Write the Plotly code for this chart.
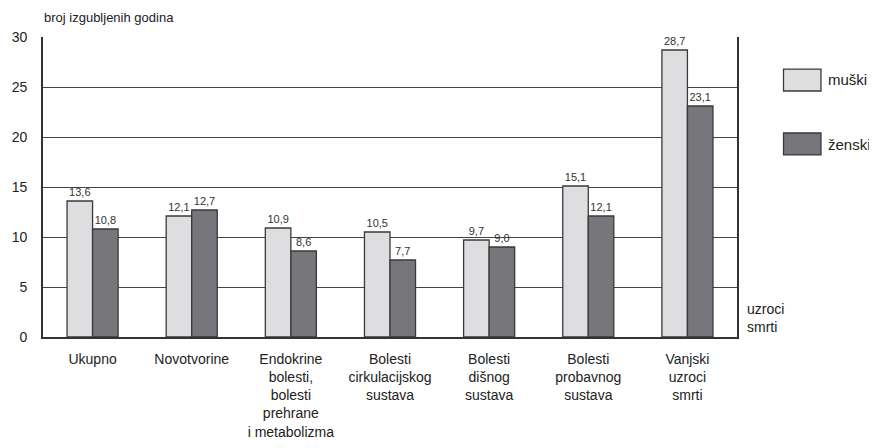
import plotly.graph_objects as go

categories = ["Ukupno", "Novotvorine", "Endokrine<br>bolesti,<br>bolesti<br>prehrane<br>i metabolizma",
              "Bolesti<br>cirkulacijskog<br>sustava", "Bolesti<br>dišnog<br>sustava",
              "Bolesti<br>probavnog<br>sustava", "Vanjski<br>uzroci<br>smrti"]
muski = [13.6, 12.1, 10.9, 10.5, 9.7, 15.1, 28.7]
zenski = [10.8, 12.7, 8.6, 7.7, 9.0, 12.1, 23.1]
y_ticks = [0, 5, 10, 15, 20, 25, 30]

FONT = "Liberation Sans Narrow, Arial Narrow, Liberation Sans, Arial, sans-serif"
LIGHT = "#dedee0"
DARK = "#77777b"
EDGE = "#3a3a3a"

def fmt(v):
    return f"{v:.1f}".replace(".", ",")

fig = go.Figure()
fig.add_bar(x=categories, y=muski, name="muški", marker=dict(color=LIGHT, line=dict(color=EDGE, width=1.3)),
            text=[fmt(v) for v in muski], textposition="outside", cliponaxis=False,
            textfont=dict(size=11, color="#333", family=FONT))
fig.add_bar(x=categories, y=zenski, name="ženski", marker=dict(color=DARK, line=dict(color=EDGE, width=1.3)),
            text=[fmt(v) for v in zenski], textposition="outside", cliponaxis=False,
            textfont=dict(size=11, color="#333", family=FONT))

fig.update_layout(
    width=869, height=440,
    margin=dict(l=35, r=140, t=29, b=111, autoexpand=False),
    plot_bgcolor="white", paper_bgcolor="white",
    barmode="group", bargap=0.485, bargroupgap=0,
    showlegend=False,
    font=dict(family=FONT, color="#222", size=14),
    xaxis=dict(showline=True, linecolor="#333", linewidth=2, ticks="", showgrid=False, automargin=False,
               tickfont=dict(size=14, family=FONT), ticklabelstandoff=8, fixedrange=True),
    yaxis=dict(range=[0, 30], tickvals=y_ticks, showgrid=True, gridcolor="#444", gridwidth=1,
               showline=True, linecolor="#333", linewidth=1.6, mirror=True, zeroline=False, automargin=False,
               ticks="", ticklabelstandoff=11, tickfont=dict(size=14, family=FONT)),
)

# legend boxes and labels
fig.add_shape(type="rect", xref="paper", yref="paper", x0=1.067, x1=1.121, y0=0.893, y1=0.82,
              fillcolor=LIGHT, line=dict(color=EDGE, width=1.3))
fig.add_shape(type="rect", xref="paper", yref="paper", x0=1.067, x1=1.121, y0=0.68, y1=0.607,
              fillcolor=DARK, line=dict(color=EDGE, width=1.3))
fig.add_annotation(text="muški", xref="paper", yref="paper", x=1.128, y=0.857, xanchor="left",
                   yanchor="middle", showarrow=False, font=dict(size=15, family=FONT))
fig.add_annotation(text="ženski", xref="paper", yref="paper", x=1.128, y=0.643, xanchor="left",
                   yanchor="middle", showarrow=False, font=dict(size=15, family=FONT))

fig.add_annotation(text="broj izgubljenih godina", xref="paper", yref="paper", x=-0.001, y=1.035,
                   xanchor="left", yanchor="bottom", showarrow=False, font=dict(size=13, family=FONT))
fig.add_annotation(text="uzroci<br>smrti", xref="paper", yref="paper", x=1.012, y=0.0,
                   xanchor="left", yanchor="bottom", align="left", showarrow=False,
                   font=dict(size=14, family=FONT))

fig.write_html("out.html")
